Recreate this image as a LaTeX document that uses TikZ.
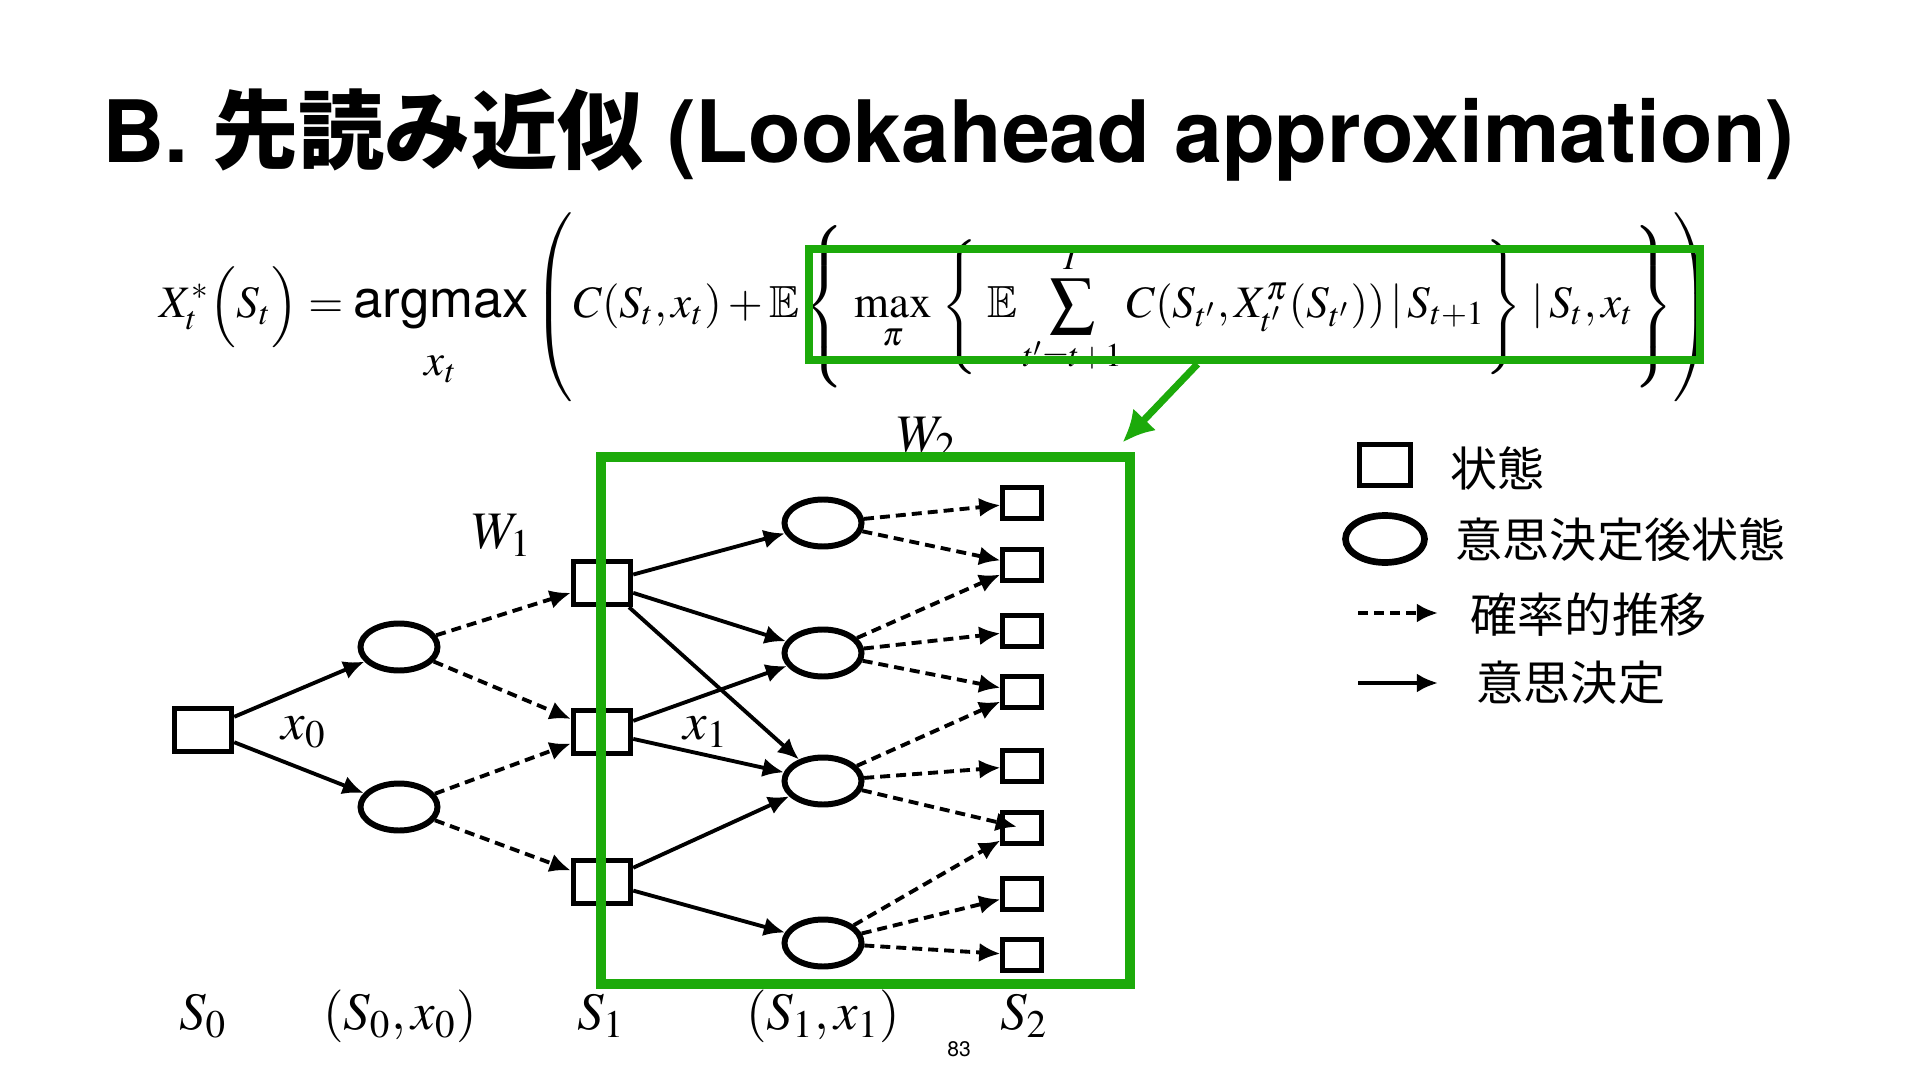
\documentclass[tikz,border=0pt]{standalone}
\usepackage{amsmath,amssymb}
\usepackage{mathptmx}
\usepackage{fontspec}
\usepackage{tikz}
\usetikzlibrary{arrows.meta,shapes.geometric,calc}

\newfontfamily\jpfont{Noto Sans CJK JP}
\newfontfamily\uisans{TeX Gyre Heros}
\definecolor{slidegreen}{RGB}{28,170,10}
\newcommand\tall[1]{\vcenter to #1{\vfil}}

\begin{document}
\begin{tikzpicture}[
  state/.style={draw, line width=1.4pt, minimum width=0.575cm, minimum height=0.435cm, inner sep=0pt},
  leaf/.style={state, minimum width=0.385cm, minimum height=0.315cm},
  post/.style={draw, ellipse, line width=1.7pt, minimum width=0.77cm, minimum height=0.47cm, inner sep=0pt},
  decide/.style={-{Latex[length=6pt,width=5.4pt]}, line width=1.1pt},
  chance/.style={decide, dash pattern=on 0.1cm off 0.06cm},
  lbl/.style={font=\fontsize{15}{18}\selectfont, inner sep=0pt},
  key/.style={anchor=west, inner sep=0pt, font=\jpfont\fontsize{13.4}{16}\selectfont},
  focus/.style={draw=slidegreen, line width=2.3pt, inner sep=0pt}
]
  \fill[white] (0,0) rectangle (19.2,-10.8);
  \useasboundingbox (0,0) rectangle (19.2,-10.8);

  \node[anchor=base west, inner sep=0pt, font=\uisans\bfseries\fontsize{24.5}{29}\selectfont] (title) at (1.02,-1.63)
    {B. {\jpfont 先読み近似} (Lookahead approximation)};

  \node[anchor=base west, inner sep=0pt, font=\fontsize{12.8}{16}\selectfont] (bellman) at (1.59,-3.18)
    {\delimiterfactor=1000 \delimitershortfall=0pt
     $\displaystyle X_t^{*}\bigl(S_t\bigr) = \mathop{\hbox{\uisans\fontsize{15}{18}\selectfont argmax}}\limits_{\displaystyle x_t\rule{0pt}{11pt}}
     \left(\tall{1.55cm}C(S_t,x_t) + \mathbb{E}\left\{\tall{1.4cm}\,\max_{\pi}\,\left\{\tall{1.2cm}\;\mathbb{E}\sum_{t'=t+1}^{T}C(S_{t'},X^{\pi}_{t'}(S_{t'}))\,|\,S_{t+1}\right\}\,|\,S_t, x_t\right\}\right)$};

  % tree
  \node[state] (s0) at (2.03,-7.30) {};
  \node[post] (e0a) at (3.99,-6.47) {};
  \node[post] (e0b) at (3.99,-8.07) {};
  \node[state] (s1a) at (6.02,-5.83) {};
  \node[state] (s1b) at (6.02,-7.32) {};
  \node[state] (s1c) at (6.02,-8.82) {};
  \node[post] (e1a) at (8.23,-5.23) {};
  \node[post] (e1b) at (8.23,-6.53) {};
  \node[post] (e1c) at (8.23,-7.81) {};
  \node[post] (e1d) at (8.23,-9.43) {};
  \foreach \y [count=\i] in {-5.03,-5.65,-6.31,-6.92,-7.66,-8.28,-8.94,-9.55}
    \node[leaf] (s2\i) at (10.22,\y) {};

  \foreach \a/\b in {s0/e0a, s0/e0b, s1a/e1a, s1a/e1b, s1a/e1c, s1b/e1b, s1b/e1c, s1c/e1c, s1c/e1d}
    \draw[decide] (\a) -- (\b);
  \foreach \a/\b in {e0a/s1a, e0a/s1b, e0b/s1b, e0b/s1c, e1a/s21, e1a/s22, e1b/s22, e1b/s23, e1b/s24,
                     e1c/s24, e1c/s25, e1d/s26, e1d/s27, e1d/s28}
    \draw[chance] (\a) -- (\b);
  \draw[chance, shorten >=-0.17cm] (e1c) -- (s26);

  \node[lbl] (w1) at (5.02,-5.35) {$W_1$};
  \node[lbl] (w2) at (9.27,-4.38) {$W_2$};
  \node[lbl] (x0) at (3.04,-7.32) {$x_0$};
  \node[lbl] (x1) at (7.06,-7.32) {$x_1$};

  \node[lbl] (t0) at (2.03,-10.16) {$S_0$};
  \node[lbl] (t0x) at (4.00,-10.16) {$(S_0,x_0)$};
  \node[lbl] (t1) at (6.01,-10.16) {$S_1$};
  \node[lbl] (t1x) at (8.23,-10.16) {$(S_1,x_1)$};
  \node[lbl] (t2) at (10.24,-10.16) {$S_2$};
  \node[font=\uisans\fontsize{6}{7}\selectfont] (page) at (9.59,-10.49) {83};

  % legend
  \node[state, minimum width=0.51cm, minimum height=0.41cm, line width=1.6pt] (keyS) at (13.85,-4.65) {};
  \node[key] (keySt) at (14.50,-4.68) {状態};
  \node[post, minimum width=0.79cm, line width=1.9pt] (keyP) at (13.85,-5.39) {};
  \node[key] (keyPt) at (14.55,-5.40) {意思決定後状態};
  \coordinate (keyC0) at (13.58,-6.13);
  \coordinate (keyC1) at (14.38,-6.13);
  \draw[chance, line width=1.3pt] (keyC0) -- (keyC1);
  \node[key] (keyCt) at (14.70,-6.15) {確率的推移};
  \coordinate (keyD0) at (13.58,-6.83);
  \coordinate (keyD1) at (14.38,-6.83);
  \draw[decide, line width=1.3pt] (keyD0) -- (keyD1);
  \node[key] (keyDt) at (14.76,-6.83) {意思決定};

  % green highlight
  \node[focus, minimum width=8.91cm, minimum height=1.11cm] (lookFocus) at (12.545,-3.045) {};
  \node[focus, line width=2.6pt, minimum width=5.29cm, minimum height=5.27cm] (lookSub) at (8.655,-7.205) {};
  \draw[slidegreen, line width=2pt, -{Latex[length=9pt,width=9pt]}]
    ($(lookFocus.south)+(-0.57,0)$) -- ($(lookSub.north east)+(-0.12,0.10)$);
\end{tikzpicture}
\end{document}
